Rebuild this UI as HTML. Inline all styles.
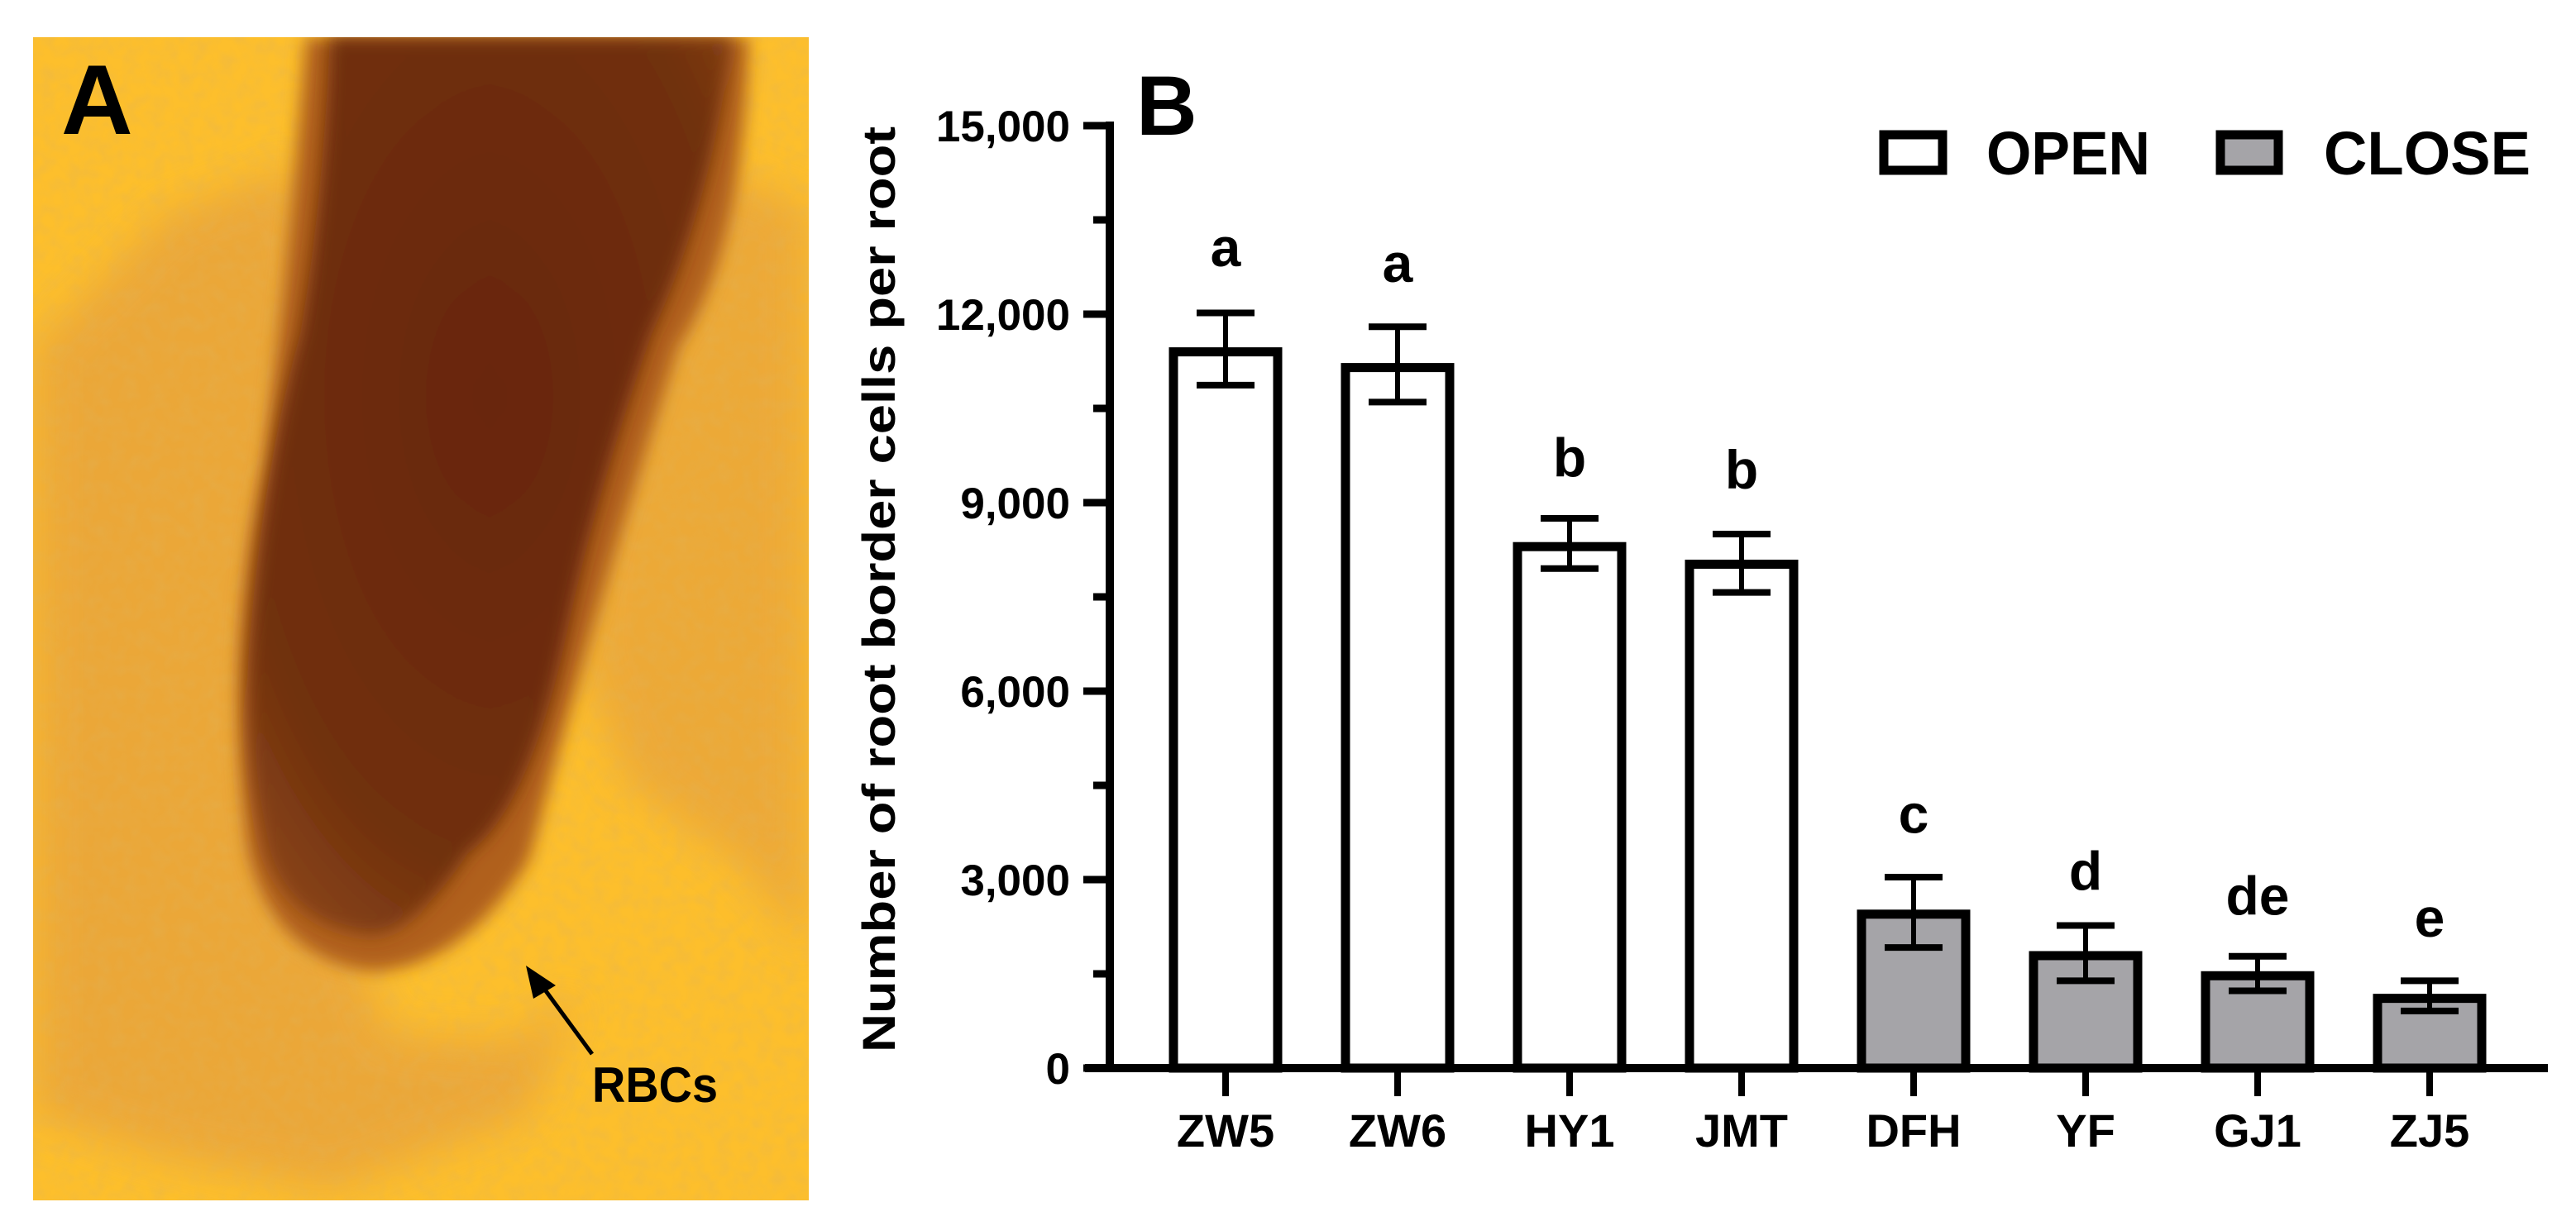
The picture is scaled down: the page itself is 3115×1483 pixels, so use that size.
<!DOCTYPE html>
<html><head><meta charset="utf-8"><style>
html,body{margin:0;padding:0;background:#fff;}
svg{display:block;}
text{font-family:"Liberation Sans",Arial,sans-serif;font-weight:bold;fill:#000;}
</style></head><body>
<svg id="fig" width="3115" height="1483" viewBox="0 0 3115 1483" xmlns="http://www.w3.org/2000/svg">
<defs>
<radialGradient id="rootGrad" cx="0.5" cy="0.4" r="0.7">
<stop offset="0" stop-color="#692610"/><stop offset="0.75" stop-color="#70300f"/><stop offset="1" stop-color="#8a4515"/>
</radialGradient>
<filter id="blur"><feGaussianBlur stdDeviation="25"/></filter>
<filter id="blur2"><feGaussianBlur stdDeviation="10"/></filter>
<filter id="tex" x="0" y="0" width="100%" height="100%">
<feTurbulence type="fractalNoise" baseFrequency="0.06" numOctaves="2" seed="3"/>
<feColorMatrix type="matrix" values="0 0 0 0 0.75  0 0 0 0 0.45  0 0 0 0 0.1  0 0 0 -1.6 1.05"/>
</filter>
<clipPath id="photoClip"><rect x="40" y="45" width="938" height="1407"/></clipPath>
</defs>
<g clip-path="url(#photoClip)">
<rect x="40" y="45" width="938" height="1407" fill="#fdbf2c"/>
<path d="M40 420 L200 260 L360 200 L400 450 L380 1000 L470 1250 L620 1260 L700 1200 L640 1350 L400 1440 L200 1400 L40 1350 Z" fill="#e6a03c" opacity="0.75" filter="url(#blur)"/>
<path d="M978 250 L850 200 L720 500 L700 800 L760 950 L900 1050 L978 1150 Z" fill="#e6a03c" opacity="0.7" filter="url(#blur)"/>
<rect x="40" y="45" width="938" height="1407" filter="url(#tex)" opacity="0.35"/>
<path d="M370 45 L905 45 Q900 300 820 420 Q730 700 640 1040 Q560 1170 450 1175 Q330 1160 300 1030 Q270 780 320 560 Q350 300 370 45 Z" fill="#b0601f" filter="url(#blur2)"/>
<path d="M399 45 L885 45 Q860 250 788 404 Q720 600 686 763 Q640 980 566 1032 Q500 1131 447 1131 Q350 1120 321 1032 Q290 900 303 763 Q320 560 363 404 Q390 250 399 45 Z" fill="url(#rootGrad)" filter="url(#blur2)"/>
<text x="74" y="162" font-size="120">A</text>
<line x1="716" y1="1275" x2="650" y2="1185" stroke="#000" stroke-width="5"/>
<polygon points="636,1168 672,1192 645,1208" fill="#000"/>
<text x="716" y="1333" font-size="60" textLength="152" lengthAdjust="spacingAndGlyphs">RBCs</text>
</g>
<g id="chart">
<text x="1374" y="163" font-size="102">B</text>
<text transform="translate(1082,713) rotate(-90)" text-anchor="middle" font-size="56" textLength="1120" lengthAdjust="spacingAndGlyphs">Number of  root border cells per root</text>
<g>
<g>
<rect x="2278" y="163" width="71" height="43" fill="#fff" stroke="#000" stroke-width="11"/>
<text x="2402" y="211" font-size="74" textLength="198" lengthAdjust="spacingAndGlyphs">OPEN</text>
</g>
<g>
<rect x="2685" y="163" width="70" height="43" fill="#a5a4a8" stroke="#000" stroke-width="11"/>
<text x="2810" y="211" font-size="74" textLength="250" lengthAdjust="spacingAndGlyphs">CLOSE</text>
</g>
</g>
</g>
</svg>
<script>
const categories = ["ZW5","ZW6","HY1","JMT","DFH","YF","GJ1","ZJ5"];
const groups = ["open","open","open","open","close","close","close","close"];
const means = [11400, 11150, 8300, 8020, 2450, 1790, 1470, 1110];
const errUpper = [12020, 11800, 8750, 8500, 3040, 2270, 1780, 1390];
const errLower = [10870, 10600, 7950, 7570, 1920, 1390, 1230, 910];
const sigLetters = ["a","a","b","b","c","d","de","e"];
const letterValues = [13000, 12750, 9650, 9460, 3980, 3070, 2680, 2330];
const yTicks = [0, 3000, 6000, 9000, 12000, 15000];
const yTickLabels = ["0","3,000","6,000","9,000","12,000","15,000"];
const yMinorTicks = [1500, 4500, 7500, 10500, 13500];

const NS = "http://www.w3.org/2000/svg";
const chart = document.getElementById("chart");
const X0 = 1342, Y0 = 1292, YTOP = 152, YMAX = 15000;
function yScale(v){ return Y0 - (v / YMAX) * (Y0 - YTOP); }
function xScale(i){ return 1482 + i * 208; }
function mk(tag, attrs){ const e = document.createElementNS(NS, tag); for (const k in attrs) e.setAttribute(k, attrs[k]); chart.appendChild(e); return e; }

categories.forEach((c, i) => {
  const cx = xScale(i), top = yScale(means[i]);
  const r = mk("rect", {x: cx - 63, y: top, width: 126, height: Y0 - top, fill: groups[i] === "open" ? "#ffffff" : "#a5a4a8", stroke: "#000", "stroke-width": 11});
  
  
  const s = mk("line", {x1: cx, x2: cx, y1: yScale(errUpper[i]), y2: yScale(errLower[i]), stroke: "#000", "stroke-width": 6});
  
  
  [errUpper[i], errLower[i]].forEach((v, k) => {
    const cap = mk("line", {x1: cx - 35, x2: cx + 35, y1: yScale(v), y2: yScale(v), stroke: "#000", "stroke-width": 8});
    
    
  });
  const t = mk("text", {x: cx, y: yScale(letterValues[i]) + 18, "text-anchor": "middle", "font-size": 66});
  t.textContent = sigLetters[i];
  
  
  const tk = mk("line", {x1: cx, x2: cx, y1: Y0, y2: Y0 + 34, stroke: "#000", "stroke-width": 8});
  
  
  const lb = mk("text", {x: cx, y: 1387, "text-anchor": "middle", "font-size": 56});
  lb.textContent = c;
  
  
});

const ya = mk("line", {x1: X0, x2: X0, y1: YTOP - 5, y2: Y0 + 5, stroke: "#000", "stroke-width": 10});


const xa = mk("line", {x1: X0 - 30, x2: 3081, y1: Y0, y2: Y0, stroke: "#000", "stroke-width": 10});


yTicks.forEach((v, i) => {
  const y = yScale(v);
  const tk = mk("line", {x1: X0 - 32, x2: X0, y1: y, y2: y, stroke: "#000", "stroke-width": 9});
  
  
  const lb = mk("text", {x: 1294, y: y + 19, "text-anchor": "end", "font-size": 53});
  lb.textContent = yTickLabels[i];
  
  
});
yMinorTicks.forEach(v => {
  const y = yScale(v);
  const tk = mk("line", {x1: X0 - 20, x2: X0, y1: y, y2: y, stroke: "#000", "stroke-width": 9});
  
  
});
</script>
</body></html>
